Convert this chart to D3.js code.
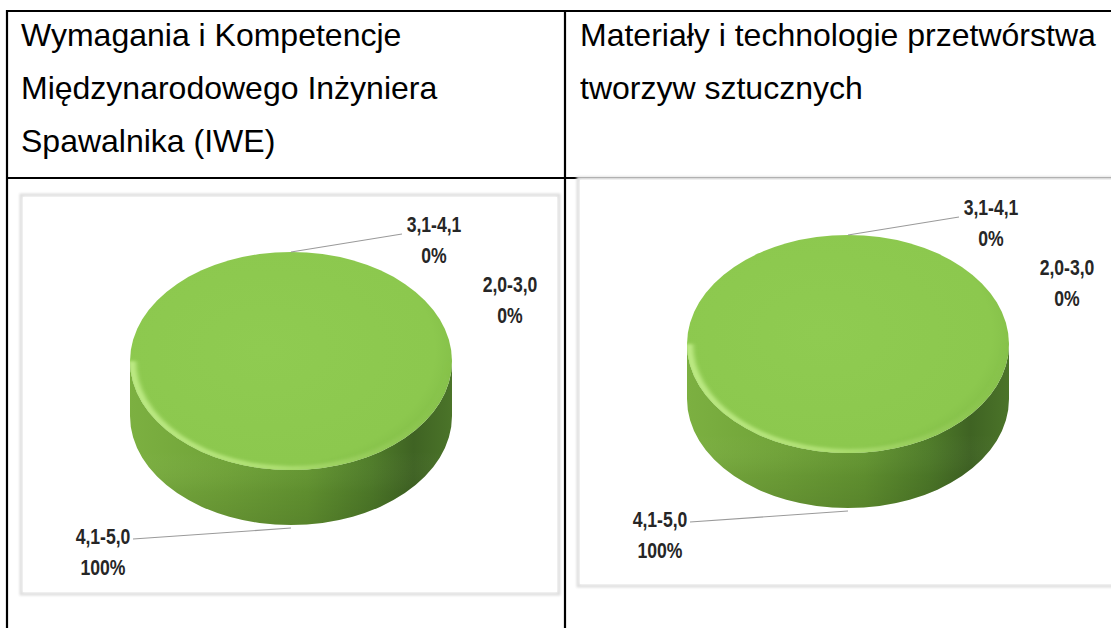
<!DOCTYPE html>
<html>
<head>
<meta charset="utf-8">
<script src="https://cdn.jsdelivr.net/npm/d3@7"></script>
<style>
  body { margin: 0; background: #fff; }
  svg { display: block; }
</style>
</head>
<body>
<div id="chart"></div>
<script>
// table headers (one list of lines per column)
const headerLeft = ["Wymagania i Kompetencje", "Międzynarodowego Inżyniera", "Spawalnika (IWE)"];
const headerRight = ["Materiały i technologie przetwórstwa", "tworzyw sztucznych"];

// pie data, same categories in both charts
const categories = ["4,1-5,0", "3,1-4,1", "2,0-3,0"];
const valuesIWE = [100, 0, 0];
const valuesPlastics = [100, 0, 0];

const W = 1111, H = 628;

const svg = d3.select("#chart")
  .append("svg")
    .attr("width", W)
    .attr("height", H);

const defs = svg.append("defs");

defs.append("filter").attr("id", "soft")
  .attr("x", "-5%").attr("y", "-5%").attr("width", "110%").attr("height", "110%")
  .append("feGaussianBlur").attr("stdDeviation", 1.2);

defs.append("filter").attr("id", "blur2")
  .attr("x", "-10%").attr("y", "-10%").attr("width", "120%").attr("height", "120%")
  .append("feGaussianBlur").attr("stdDeviation", 2);

// side wall shading, light on the left, dark on the right
const sideGrad = defs.append("linearGradient").attr("id", "side")
  .attr("x1", "0").attr("x2", "1").attr("y1", "0").attr("y2", "0");
[[0, "#7cb041"], [0.3, "#70a338"], [0.55, "#649631"], [0.75, "#4f7c29"], [0.88, "#3f6323"], [1, "#4b7429"]]
  .forEach(s => sideGrad.append("stop").attr("offset", s[0]).attr("stop-color", s[1]));

const sideShade = defs.append("linearGradient").attr("id", "sideShade")
  .attr("x1", "0").attr("x2", "0").attr("y1", "0").attr("y2", "1");
[[0, "#ffffff", 0.0], [0.55, "#ffffff", 0.0], [0.8, "#000000", 0.06], [1, "#000000", 0.12]]
  .forEach(s => sideShade.append("stop").attr("offset", s[0]).attr("stop-color", s[1]).attr("stop-opacity", s[2]));

const topGrad = defs.append("radialGradient").attr("id", "top")
  .attr("cx", "0.42").attr("cy", "0.45").attr("r", "0.62");
[[0, "#8fcb51"], [0.85, "#8cc84e"], [1, "#82bd47"]]
  .forEach(s => topGrad.append("stop").attr("offset", s[0]).attr("stop-color", s[1]));

const rimGrad = defs.append("linearGradient").attr("id", "rim")
  .attr("x1", "0").attr("x2", "1").attr("y1", "0").attr("y2", "0");
[[0, "#c0ec88", 0.95], [0.45, "#b2e276", 0.9], [0.8, "#a2d466", 0.45], [1, "#a2d466", 0]]
  .forEach(s => rimGrad.append("stop").attr("offset", s[0]).attr("stop-color", s[1]).attr("stop-opacity", s[2]));

// ---- table ----
const table = svg.append("g").attr("stroke", "#000").attr("stroke-width", 2.2);
table.append("line").attr("x1", 6).attr("x2", W).attr("y1", 11).attr("y2", 11);
table.append("line").attr("x1", 6).attr("x2", W).attr("y1", 178).attr("y2", 178);
table.append("line").attr("x1", 7).attr("x2", 7).attr("y1", 10).attr("y2", H);
table.append("line").attr("x1", 565).attr("x2", 565).attr("y1", 10).attr("y2", H);

function headerText(lines, x) {
  svg.append("text")
    .attr("font-family", "'Liberation Sans', Arial, sans-serif")
    .attr("font-size", 32)
    .attr("fill", "#000")
    .selectAll("tspan")
    .data(lines)
    .enter().append("tspan")
      .attr("x", x)
      .attr("y", (d, i) => 46 + i * 53)
      .text(d => d);
}
headerText(headerLeft, 21);
headerText(headerRight, 580);

// ---- 3D pies ----
const rx = 161, ry = 109, depth = 55;
const k = ry / rx;

const pie = d3.pie().sort(null).startAngle(0).endAngle(2 * Math.PI);
const arc = d3.arc().innerRadius(0).outerRadius(rx);

// label placement relative to pie centre (layout, not data)
const labelLayout = [
  { x: -188, y: 175, lx: -158, ly: 178, leader: true },
  { x: 143, y: -137, lx: 111, ly: -127, leader: true },
  { x: 219, y: -77, leader: false }
];

let pieId = 0;

function drawPie(panel, values) {
  pieId++;
  const box = svg.append("g");
  box.append("rect")
    .attr("x", panel.x).attr("y", panel.y)
    .attr("width", panel.w).attr("height", panel.h)
    .attr("fill", "#fff")
    .attr("stroke", "#dedede").attr("stroke-width", 3)
    .attr("filter", "url(#soft)");
  box.append("rect")
    .attr("x", panel.x + 2).attr("y", panel.y + 2)
    .attr("width", panel.w - 4).attr("height", panel.h - 4)
    .attr("fill", "#fff");

  const cx = panel.x + 270, cy = panel.y + 166;
  const total = d3.sum(values);
  const arcs = pie(values);

  // everything below is drawn in the squashed (circle) space
  const g = box.append("g").attr("transform", `translate(${cx},${cy}) scale(1,${k})`);
  const D = depth / k;
  const wall = d => {
    const a0 = Math.max(d.startAngle, Math.PI / 2);
    const a1 = Math.min(d.endAngle, 3 * Math.PI / 2);
    if (a1 <= a0) return null;
    const p = d3.path();
    p.moveTo(rx * Math.sin(a0), -rx * Math.cos(a0));
    p.arc(0, 0, rx, a0 - Math.PI / 2, a1 - Math.PI / 2, false);
    p.lineTo(rx * Math.sin(a1), -rx * Math.cos(a1) + D);
    p.arc(0, D, rx, a1 - Math.PI / 2, a0 - Math.PI / 2, true);
    p.closePath();
    return p.toString();
  };
  const walls = arcs.filter(d => wall(d));
  g.selectAll("path.side").data(walls).enter().append("path")
    .attr("class", "side")
    .attr("d", wall)
    .attr("fill", "url(#side)");
  g.selectAll("path.sideShade").data(walls).enter().append("path")
    .attr("class", "sideShade")
    .attr("d", wall)
    .attr("fill", "url(#sideShade)");

  // top face
  g.selectAll("path.top").data(arcs).enter().append("path")
    .attr("class", "top")
    .attr("d", arc)
    .attr("fill", "url(#top)");

  // bright bevel along the front edge of the top face, clipped to it
  const clip = defs.append("clipPath").attr("id", "topClip" + pieId);
  clip.selectAll("path").data(arcs).enter().append("path").attr("d", arc);
  g.append("g").attr("clip-path", `url(#topClip${pieId})`)
    .selectAll("path.rim").data(walls).enter().append("path")
    .attr("class", "rim")
    .attr("d", d => {
      const a0 = Math.max(d.startAngle, Math.PI / 2);
      const a1 = Math.min(d.endAngle, 3 * Math.PI / 2);
      const p = d3.path();
      const r = rx - 2;
      p.moveTo(r * Math.sin(a1), -r * Math.cos(a1));
      p.arc(0, 0, r, a1 - Math.PI / 2, a0 - Math.PI / 2, true);
      return p.toString();
    })
    .attr("fill", "none")
    .attr("stroke", "url(#rim)")
    .attr("stroke-width", 8)
    .attr("filter", "url(#blur2)");

  // labels
  const fmt = v => Math.round(v / total * 100) + "%";
  arcs.forEach((d, i) => {
    const L = labelLayout[i];
    const mid = (d.startAngle + d.endAngle) / 2;
    const front = Math.cos(mid) < 0;
    const ax = cx + rx * Math.sin(mid);
    const ay = cy - ry * Math.cos(mid) + (front ? depth + 3 : 0);
    if (L.leader) {
      box.append("line")
        .attr("x1", ax).attr("y1", ay)
        .attr("x2", cx + L.lx).attr("y2", cy + L.ly)
        .attr("stroke", "#9a9a9a").attr("stroke-width", 1.1);
    }
    // narrow bold look: squeeze regular Liberation Sans Bold horizontally
    const t = box.append("text")
      .attr("transform", `translate(${cx + L.x},${cy + L.y}) scale(0.8,1)`)
      .attr("text-anchor", "middle")
      .attr("font-family", "'Liberation Sans', Arial, sans-serif")
      .attr("font-weight", "bold")
      .attr("font-size", 22)
      .attr("fill", "#262626");
    t.append("tspan").attr("x", 0).attr("y", 8).text(categories[i]);
    t.append("tspan").attr("x", 0).attr("y", 39).text(fmt(values[i]));
  });
}

drawPie({ x: 21, y: 195, w: 538, h: 399 }, valuesIWE);
drawPie({ x: 578, y: 178, w: 560, h: 408 }, valuesPlastics);
</script>
</body>
</html>
